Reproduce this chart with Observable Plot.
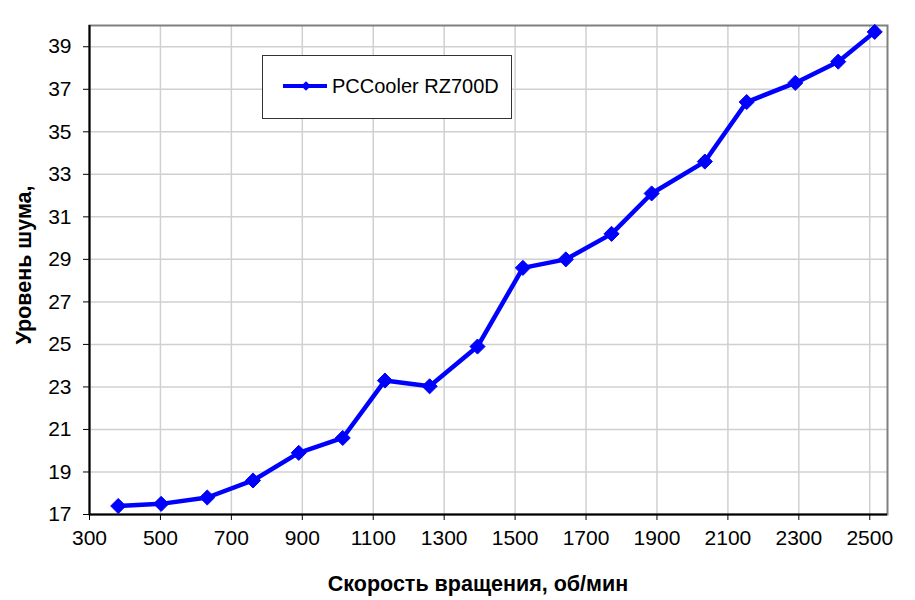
<!DOCTYPE html>
<html>
<head>
<meta charset="utf-8">
<script src="https://cdn.jsdelivr.net/npm/d3@7"></script>
<script src="https://cdn.jsdelivr.net/npm/@observablehq/plot@0.6"></script>
<style>
  html, body { margin: 0; padding: 0; background: #fff; }
  #chart { width: 915px; height: 600px; }
</style>
</head>
<body>
<div id="chart"></div>
<script>
const speeds = [381, 502, 632, 761, 890, 1014, 1133, 1259, 1394, 1522, 1643, 1772, 1885, 2035, 2153, 2290, 2411, 2514];
const noise  = [17.4, 17.5, 17.8, 18.6, 19.9, 20.6, 23.3, 23.03, 24.9, 28.6, 29.0, 30.2, 32.1, 33.6, 36.4, 37.3, 38.3, 39.7];
const xTicks = [300, 500, 700, 900, 1100, 1300, 1500, 1700, 1900, 2100, 2300, 2500];
const yTicks = [17, 19, 21, 23, 25, 27, 29, 31, 33, 35, 37, 39];
const seriesName = "PCCooler RZ700D";
const xTitle = "Скорость вращения, об/мин";
const yTitle = "Уровень шума,";

const data = speeds.map((s, i) => ({speed: s, noise: noise[i]}));
const font = "'Liberation Sans', Arial, sans-serif";
const blue = "#0000ff";

const chart = Plot.plot({
  width: 915,
  height: 600,
  marginLeft: 89,
  marginRight: 28,
  marginTop: 25,
  marginBottom: 86,
  style: {fontFamily: font, fontSize: "21px", color: "#000", background: "#fff"},
  x: {domain: [300, 2550]},
  y: {domain: [17, 40]},
  marks: [
    Plot.gridX(xTicks, {stroke: "#d0d0d0", strokeOpacity: 1, strokeWidth: 1.5}),
    Plot.gridY(yTicks, {stroke: "#d0d0d0", strokeOpacity: 1, strokeWidth: 1.5}),
    Plot.frame({stroke: "#808080", strokeWidth: 2}),
    Plot.axisX({ticks: xTicks, tickSize: 6, tickPadding: 10, label: null, fontSize: 21, tickFormat: d => String(d), stroke: "#000"}),
    Plot.axisY({ticks: yTicks, tickSize: 6, tickPadding: 12, label: null, fontSize: 21, tickFormat: d => String(d), stroke: "#000"}),
    Plot.ruleX([300], {stroke: "#000", strokeWidth: 2}),
    Plot.ruleY([17], {stroke: "#000", strokeWidth: 2}),
    Plot.line(data, {x: "speed", y: "noise", stroke: blue, strokeWidth: 4.5, strokeLinejoin: "round"}),
    Plot.dot(data, {x: "speed", y: "noise", symbol: "diamond2", r: 6.8, fill: blue, stroke: blue, strokeWidth: 1})
  ]
});

document.getElementById("chart").appendChild(chart);
const svg = d3.select(chart);

// Axis titles
svg.append("text")
  .attr("x", 478).attr("y", 591)
  .attr("text-anchor", "middle")
  .attr("font-family", font).attr("font-weight", "bold").attr("font-size", 21.5)
  .attr("fill", "#000")
  .text(xTitle);

svg.append("text")
  .attr("transform", "translate(31,265) rotate(-90)")
  .attr("text-anchor", "middle")
  .attr("font-family", font).attr("font-weight", "bold").attr("font-size", 21.5)
  .attr("fill", "#000")
  .text(yTitle);

// Legend
const lg = svg.append("g");
lg.append("rect")
  .attr("x", 262.5).attr("y", 55.5).attr("width", 249).attr("height", 63)
  .attr("fill", "#fff").attr("stroke", "#333").attr("stroke-width", 1);
lg.append("line")
  .attr("x1", 283).attr("x2", 327).attr("y1", 86).attr("y2", 86)
  .attr("stroke", blue).attr("stroke-width", 4);
lg.append("path")
  .attr("transform", "translate(306,86)")
  .attr("d", d3.symbol(d3.symbolDiamond2, 60)())
  .attr("fill", blue);
lg.append("text")
  .attr("x", 332).attr("y", 93)
  .attr("text-anchor", "start")
  .attr("font-family", font).attr("font-size", 20)
  .attr("fill", "#000")
  .text(seriesName);
</script>
</body>
</html>
